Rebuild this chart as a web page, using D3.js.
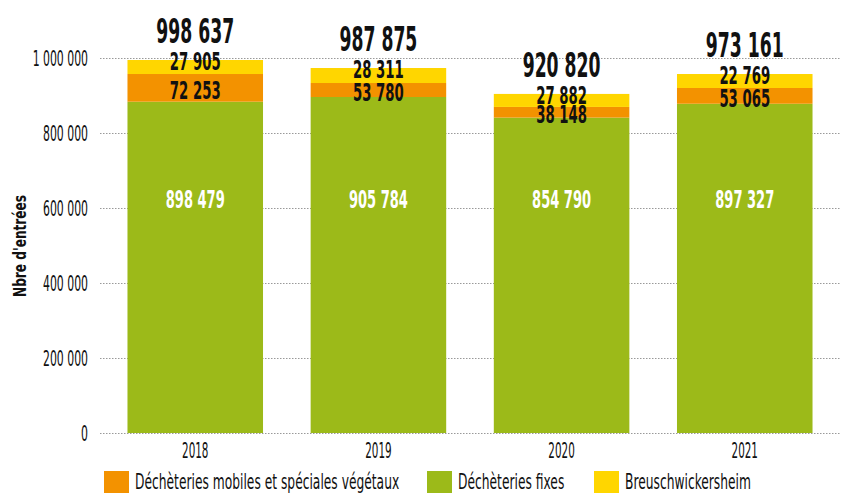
<!DOCTYPE html>
<html>
<head>
<meta charset="utf-8">
<script src="https://cdn.jsdelivr.net/npm/d3@7"></script>
<style>
  body { margin: 0; background: #fff; }
  text { font-family: "DejaVu Sans Condensed", "DejaVu Sans", sans-serif; }
</style>
</head>
<body>
<div id="chart"></div>
<script>
// data
var years = ["2018", "2019", "2020", "2021"];
// values printed on the chart
var fixes = [898479, 905784, 854790, 897327];
var mobiles = [72253, 53780, 38148, 53065];
var breusch = [27905, 28311, 27882, 22769];
var totals = [998637, 987875, 920820, 973161];
// bar segment heights as drawn in the picture
var barFixes = [883500, 896000, 841000, 878000];
var barMobiles = [73800, 37300, 28500, 42000];
var barBreusch = [37400, 40000, 34700, 37300];
var yTicks = [0, 200000, 400000, 600000, 800000, 1000000];
var seriesNames = ["Déchèteries mobiles et spéciales végétaux", "Déchèteries fixes", "Breuschwickersheim"];

var cGreen = "#9cba19", cOrange = "#f39200", cYellow = "#ffd600";

var W = 841, H = 493;
var svg = d3.select("#chart").append("svg").attr("width", W).attr("height", H);

var fr = d3.formatLocale({decimal: ",", thousands: " ", grouping: [3], currency: ["", " €"]});
var fmt = fr.format(",d");

var x = d3.scaleBand().domain(years).range([100, 840]).paddingInner(0.26).paddingOuter(0.15);
var y = d3.scaleLinear().domain([0, 1000000]).range([433, 58]);

// text helper : condensed look with horizontal scale
function txt(parent, px, py, s, size, weight, sx, anchor, fill, rot){
  return parent.append("text")
    .attr("transform", "translate(" + px + "," + py + ")" + (rot ? " rotate(" + rot + ")" : "") + " scale(" + sx + ",1)")
    .attr("font-size", size)
    .attr("font-weight", weight)
    .attr("text-anchor", anchor)
    .attr("fill", fill || "#111")
    .text(s);
}

// grid
var grid = svg.append("g");
yTicks.forEach(function(t){
  grid.append("line")
    .attr("x1", 100).attr("x2", 840)
    .attr("y1", y(t) + 0.5).attr("y2", y(t) + 0.5)
    .attr("stroke", "#999").attr("stroke-width", 1).attr("stroke-dasharray", "1.5,1.5");
  txt(grid, 88, y(t) + 7.5, fmt(t), 20.5, "normal", 0.59, "end");
});

txt(svg, 26, 246, "Nbre d'entrées", 18, "bold", 0.75, "middle", "#111", -90);

// bars
var bars = svg.append("g");
years.forEach(function(yr, i){
  var bx = x(yr), bw = x.bandwidth();
  var g0 = barFixes[i], g1 = g0 + barMobiles[i], g2 = g1 + barBreusch[i];
  bars.append("rect").attr("x", bx).attr("width", bw).attr("y", y(g0)).attr("height", y(0) - y(g0)).attr("fill", cGreen);
  bars.append("rect").attr("x", bx).attr("width", bw).attr("y", y(g1)).attr("height", y(g0) - y(g1)).attr("fill", cOrange);
  bars.append("rect").attr("x", bx).attr("width", bw).attr("y", y(g2)).attr("height", y(g1) - y(g2)).attr("fill", cYellow);

  var cx = bx + bw / 2;
  txt(bars, cx, y(625000) + 9, fmt(fixes[i]), 25, "bold", 0.58, "middle", "#fff");
  txt(bars, cx, (y(g0) + y(g1)) / 2 + 11, fmt(mobiles[i]), 25, "bold", 0.59, "middle");
  txt(bars, cx, y(g2) + 10, fmt(breusch[i]), 25, "bold", 0.59, "middle");
  txt(bars, cx, y(g2) - 17, fmt(totals[i]), 33, "bold", 0.58, "middle");

  txt(bars, cx, 458, yr, 21, "normal", 0.55, "middle");
});

// legend
var legend = svg.append("g");
var lx = [104, 427, 594], cols = [cOrange, cGreen, cYellow];
seriesNames.forEach(function(n, i){
  legend.append("rect").attr("x", lx[i]).attr("y", 471).attr("width", 25).attr("height", 22).attr("fill", cols[i]);
  txt(legend, lx[i] + 31, 489, n, 21, "normal", 0.65, "start");
});
</script>
</body>
</html>
